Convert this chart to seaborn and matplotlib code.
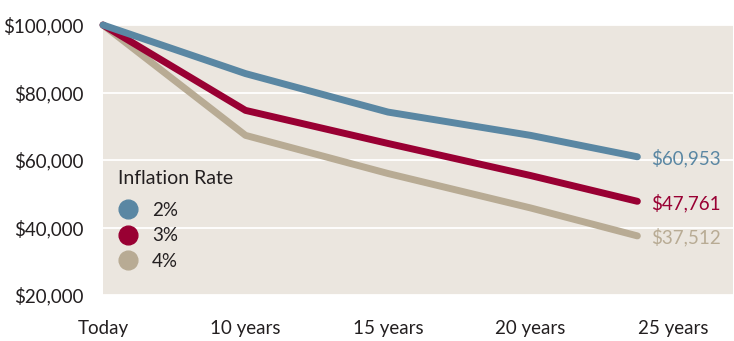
import pandas as pd
import seaborn as sns
import matplotlib.pyplot as plt
import numpy as np
from matplotlib.lines import Line2D

periods = ["Today", "10 years", "15 years", "20 years", "25 years"]
rates = ["2%", "3%", "4%"]
rate_2 = [100000, 85600, 74200, 67300, 60953]
rate_3 = [100000, 74700, 64900, 55400, 47761]
rate_4 = [100000, 67300, 56000, 45800, 37512]
end_labels = ["$60,953", "$47,761", "$37,512"]
yticks = [20000, 40000, 60000, 80000, 100000]

colors = {"2%": "#5a87a3", "3%": "#990033", "4%": "#b8ab94"}
text_color = "#231f20"

# long form table, x on a category index; last point sits a bit before its tick in the original
pos = np.arange(len(periods), dtype=float)
pos[-1] -= 0.25
df = pd.concat([
    pd.DataFrame({"pos": pos, "value": vals, "rate": r})
    for r, vals in zip(rates, [rate_2, rate_3, rate_4])
])

sns.set_style("white")
plt.rcParams["font.family"] = ["Lato", "DejaVu Sans"]

fig = plt.figure(figsize=(7.34, 3.41), dpi=100)
ax = fig.add_axes([103 / 734, 1 - 295 / 341, 630 / 734, 270 / 341])
ax.set_facecolor("#ebe6df")

for r in reversed(rates):
    sub = df[df["rate"] == r]
    sns.lineplot(data=sub, x="pos", y="value", color=colors[r], linewidth=5,
                 solid_capstyle="round", solid_joinstyle="round", ax=ax, clip_on=False, zorder=3)

for r, lab in zip(rates, end_labels):
    sub = df[df["rate"] == r]
    ax.annotate(lab, (sub["pos"].iloc[-1], sub["value"].iloc[-1]), xytext=(10, -1),
                textcoords="offset points", va="center", ha="left",
                color=colors[r], fontsize=13.5)

ax.set_ylim(20000, 100000)
ax.set_xlim(0, 630 / 142.5)
ax.set_yticks(yticks)
ax.set_yticklabels([f"${v:,}" for v in yticks])
ax.set_xticks(range(len(periods)))
ax.set_xticklabels(periods)
ax.grid(axis="y", color="white", linewidth=1.3)
ax.set_axisbelow(True)
for s in ax.spines.values():
    s.set_visible(False)
ax.tick_params(axis="y", length=0, pad=14, labelsize=13.5, labelcolor=text_color)
ax.tick_params(axis="x", direction="in", length=5, width=1, color="white",
               pad=18, labelsize=13.5, labelcolor=text_color)
ax.set_xlabel("")
ax.set_ylabel("")

# legend title as plain text, items below it
ax.text(0.024, 0.433, "Inflation Rate", transform=ax.transAxes, ha="left", va="center",
        fontsize=14, color=text_color)
handles = [Line2D([], [], marker="o", ls="", markersize=13.5, color=colors[r]) for r in rates]
leg = ax.legend(handles, rates, loc="center left", bbox_to_anchor=(-0.0025, 0.219),
                frameon=False, fontsize=13.5, handletextpad=0.8, labelspacing=0.45,
                handlelength=1.0)
for t in leg.get_texts():
    t.set_color(text_color)

plt.savefig("out.png", dpi=100)
plt.close()
